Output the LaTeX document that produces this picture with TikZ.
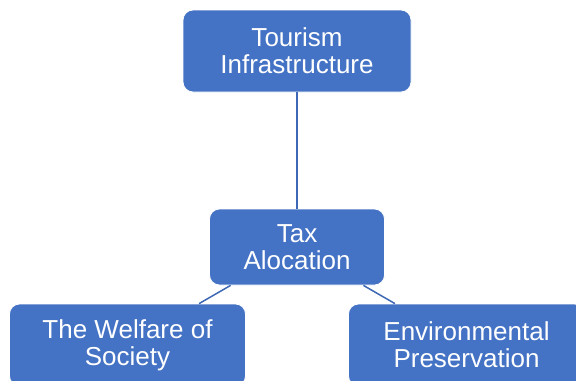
\documentclass[tikz,border=0pt]{standalone}
\usepackage{fontspec}
\setmainfont{Liberation Sans}
\usepackage{tikz}
\usetikzlibrary{positioning}

\definecolor{boxblue}{HTML}{4472C4}
\definecolor{linkblue}{HTML}{3E68B5}

\begin{document}
\begin{tikzpicture}[-, semithick, x=1pt, y=1pt, node distance = 49pt]
\tikzstyle{topic}=[rectangle, rounded corners=5pt, fill=boxblue, draw=white, thin, text=white, align=center, inner sep=2pt, minimum width=118pt, minimum height=41pt, font=\fontsize{13}{13.5}\selectfont]
\tikzstyle{link}=[draw=linkblue, line width=0.75pt]

\useasboundingbox (0,0) rectangle (288,-190);

\node[topic, minimum width=114pt]			(infra) at (148.5,-25.5)	{Tourism\\Infrastructure};
\node[topic, minimum width=87.5pt, minimum height=38pt]	(tax) [below of=infra, node distance=98pt]	{Tax\\Alocation};
\node[topic]		(welfare) [below of=tax, xshift=-84.75pt]	{The Welfare of\\Society};
\node[topic]		(env) [below of=tax, xshift=84.75pt]	{Environmental\\Preservation};

\path[link]
	(infra)	edge	(tax)
	(tax)	edge	(welfare)
		edge	(env)
;

\end{tikzpicture}
\end{document}
